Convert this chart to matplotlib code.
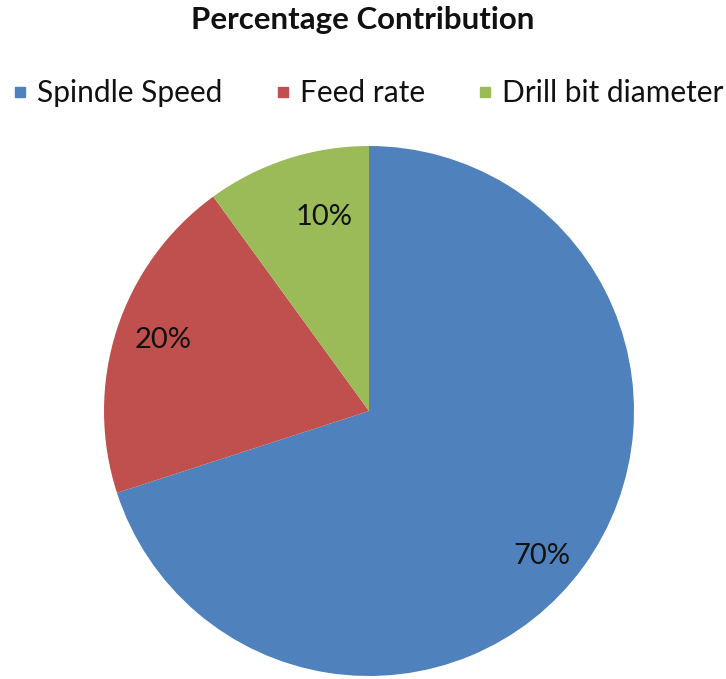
import matplotlib
matplotlib.use("Agg")
import numpy as np
import matplotlib.pyplot as plt
from matplotlib.lines import Line2D

# ==========================
# Data
# ==========================
parameters = ["Spindle Speed", "Feed rate", "Drill bit diameter"]
contribution = [70, 20, 10]
colors = ["#4F81BD", "#C0504D", "#9BBB59"]

# label placement inside each slice (radius fraction, angle shift in degrees)
label_radius = [0.85, 0.82, 0.75]
label_shift = [-4, -1, -5]

plt.rcParams["font.family"] = ["Lato", "DejaVu Sans"]

W, H = 726, 679
fig = plt.figure(figsize=(W / 100, H / 100), dpi=100)

# pie centre (369, 411) px, radius 265 px
cx, cy, r = 369, 411, 265
ax = fig.add_axes([(cx - r) / W, (H - cy - r) / H, 2 * r / W, 2 * r / H])

wedges, texts, autotexts = ax.pie(
    contribution,
    colors=colors,
    startangle=90,
    counterclock=False,
    autopct="%1.0f%%",
    pctdistance=0.8,
    wedgeprops=dict(linewidth=0),
    textprops=dict(fontsize=21, color="#111111"),
)
for w, t, rad, sh in zip(wedges, autotexts, label_radius, label_shift):
    mid = np.deg2rad((w.theta1 + w.theta2) / 2 + sh)
    t.set_position((rad * np.cos(mid), rad * np.sin(mid)))

ax.set_xlim(-1, 1)
ax.set_ylim(-1, 1)
ax.set_aspect("equal")
ax.axis("off")

fig.text(0.5, 1 - 20 / H, "Percentage Contribution", ha="center", va="center",
         fontsize=22.5, fontweight="bold", color="#111111")

handles = [Line2D([], [], marker="s", linestyle="none", markersize=6.5,
                  markerfacecolor=c, markeredgecolor=c) for c in colors]
fig.legend(handles, parameters, loc="center", bbox_to_anchor=(0.507, 1 - 93 / H),
           ncol=3, frameon=False, fontsize=21.5, handletextpad=0.33,
           columnspacing=1.75, handlelength=0.5, labelcolor="#111111")

fig.savefig("out.png", dpi=100)
